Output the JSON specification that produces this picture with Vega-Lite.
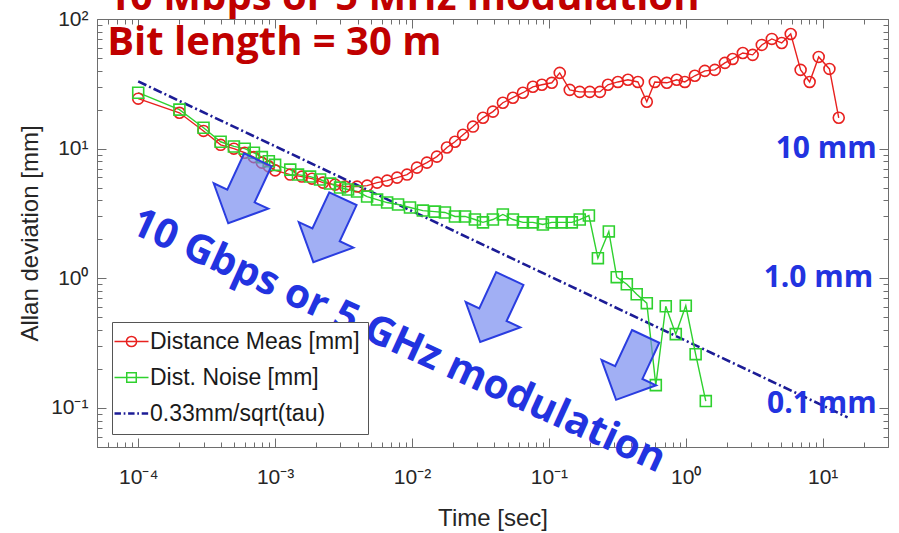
{
  "$schema": "https://vega.github.io/schema/vega-lite/v6.json",
  "width": 791,
  "height": 428,
  "autosize": "none",
  "padding": {"left": 97, "top": 19, "right": 11, "bottom": 86},
  "background": "white",
  "config": {"view": {"stroke": null}, "font": "Liberation Sans"},
  "datasets": {
    "fit": [
      {"t": 0.0001, "v": 33},
      {"t": 15.2, "v": 0.0847}
    ],
    "series": [
      {"s": "Distance Meas [mm]", "t": 0.0001, "v": 24.3},
      {"s": "Distance Meas [mm]", "t": 0.0002, "v": 18.9},
      {"s": "Distance Meas [mm]", "t": 0.0003, "v": 13.7},
      {"s": "Distance Meas [mm]", "t": 0.0004, "v": 10.7},
      {"s": "Distance Meas [mm]", "t": 0.0005, "v": 10.0},
      {"s": "Distance Meas [mm]", "t": 0.0006, "v": 9.3},
      {"s": "Distance Meas [mm]", "t": 0.0007, "v": 8.6},
      {"s": "Distance Meas [mm]", "t": 0.0008, "v": 7.8},
      {"s": "Distance Meas [mm]", "t": 0.0009, "v": 7.3},
      {"s": "Distance Meas [mm]", "t": 0.001, "v": 6.8},
      {"s": "Distance Meas [mm]", "t": 0.00129, "v": 6.31},
      {"s": "Distance Meas [mm]", "t": 0.00157, "v": 6.09},
      {"s": "Distance Meas [mm]", "t": 0.00186, "v": 5.87},
      {"s": "Distance Meas [mm]", "t": 0.00224, "v": 5.47},
      {"s": "Distance Meas [mm]", "t": 0.00274, "v": 5.28},
      {"s": "Distance Meas [mm]", "t": 0.00324, "v": 5.1},
      {"s": "Distance Meas [mm]", "t": 0.00397, "v": 5.1},
      {"s": "Distance Meas [mm]", "t": 0.0047, "v": 5.19},
      {"s": "Distance Meas [mm]", "t": 0.00556, "v": 5.47},
      {"s": "Distance Meas [mm]", "t": 0.00658, "v": 5.67},
      {"s": "Distance Meas [mm]", "t": 0.00778, "v": 5.98},
      {"s": "Distance Meas [mm]", "t": 0.0092, "v": 6.31},
      {"s": "Distance Meas [mm]", "t": 0.01087, "v": 7.14},
      {"s": "Distance Meas [mm]", "t": 0.01285, "v": 7.8},
      {"s": "Distance Meas [mm]", "t": 0.0152, "v": 8.68},
      {"s": "Distance Meas [mm]", "t": 0.018, "v": 10.2},
      {"s": "Distance Meas [mm]", "t": 0.0206, "v": 11.3},
      {"s": "Distance Meas [mm]", "t": 0.0236, "v": 12.8},
      {"s": "Distance Meas [mm]", "t": 0.0279, "v": 14.8},
      {"s": "Distance Meas [mm]", "t": 0.033, "v": 17.3},
      {"s": "Distance Meas [mm]", "t": 0.039, "v": 19.3},
      {"s": "Distance Meas [mm]", "t": 0.0461, "v": 22.6},
      {"s": "Distance Meas [mm]", "t": 0.0546, "v": 24.7},
      {"s": "Distance Meas [mm]", "t": 0.0646, "v": 27.0},
      {"s": "Distance Meas [mm]", "t": 0.0764, "v": 30.0},
      {"s": "Distance Meas [mm]", "t": 0.0889, "v": 31.1},
      {"s": "Distance Meas [mm]", "t": 0.105, "v": 32.2},
      {"s": "Distance Meas [mm]", "t": 0.12, "v": 38.4},
      {"s": "Distance Meas [mm]", "t": 0.142, "v": 28.4},
      {"s": "Distance Meas [mm]", "t": 0.168, "v": 27.4},
      {"s": "Distance Meas [mm]", "t": 0.199, "v": 27.4},
      {"s": "Distance Meas [mm]", "t": 0.236, "v": 27.4},
      {"s": "Distance Meas [mm]", "t": 0.27, "v": 31.1},
      {"s": "Distance Meas [mm]", "t": 0.319, "v": 32.7},
      {"s": "Distance Meas [mm]", "t": 0.378, "v": 34.0},
      {"s": "Distance Meas [mm]", "t": 0.447, "v": 32.7},
      {"s": "Distance Meas [mm]", "t": 0.519, "v": 23.0},
      {"s": "Distance Meas [mm]", "t": 0.594, "v": 32.7},
      {"s": "Distance Meas [mm]", "t": 0.727, "v": 32.2},
      {"s": "Distance Meas [mm]", "t": 0.859, "v": 34.0},
      {"s": "Distance Meas [mm]", "t": 0.984, "v": 32.7},
      {"s": "Distance Meas [mm]", "t": 1.164, "v": 36.5},
      {"s": "Distance Meas [mm]", "t": 1.377, "v": 39.8},
      {"s": "Distance Meas [mm]", "t": 1.63, "v": 40.5},
      {"s": "Distance Meas [mm]", "t": 1.93, "v": 45.9},
      {"s": "Distance Meas [mm]", "t": 2.2, "v": 49.2},
      {"s": "Distance Meas [mm]", "t": 2.61, "v": 54.7},
      {"s": "Distance Meas [mm]", "t": 3.08, "v": 52.9},
      {"s": "Distance Meas [mm]", "t": 3.59, "v": 63.1},
      {"s": "Distance Meas [mm]", "t": 4.25, "v": 70.2},
      {"s": "Distance Meas [mm]", "t": 5.02, "v": 65.3},
      {"s": "Distance Meas [mm]", "t": 5.84, "v": 76.7},
      {"s": "Distance Meas [mm]", "t": 6.9, "v": 40.5},
      {"s": "Distance Meas [mm]", "t": 8.03, "v": 32.7},
      {"s": "Distance Meas [mm]", "t": 9.35, "v": 51.0},
      {"s": "Distance Meas [mm]", "t": 11.2, "v": 41.2},
      {"s": "Distance Meas [mm]", "t": 13.1, "v": 17.3},
      {"s": "Dist. Noise [mm]", "t": 0.0001, "v": 27.0},
      {"s": "Dist. Noise [mm]", "t": 0.0002, "v": 20.0},
      {"s": "Dist. Noise [mm]", "t": 0.0003, "v": 14.5},
      {"s": "Dist. Noise [mm]", "t": 0.0004, "v": 11.3},
      {"s": "Dist. Noise [mm]", "t": 0.0005, "v": 10.4},
      {"s": "Dist. Noise [mm]", "t": 0.0006, "v": 10.0},
      {"s": "Dist. Noise [mm]", "t": 0.0007, "v": 9.3},
      {"s": "Dist. Noise [mm]", "t": 0.0008, "v": 8.6},
      {"s": "Dist. Noise [mm]", "t": 0.0009, "v": 8.0},
      {"s": "Dist. Noise [mm]", "t": 0.001, "v": 7.5},
      {"s": "Dist. Noise [mm]", "t": 0.00129, "v": 6.89},
      {"s": "Dist. Noise [mm]", "t": 0.00147, "v": 6.31},
      {"s": "Dist. Noise [mm]", "t": 0.0018, "v": 6.09},
      {"s": "Dist. Noise [mm]", "t": 0.00213, "v": 5.78},
      {"s": "Dist. Noise [mm]", "t": 0.00252, "v": 5.38},
      {"s": "Dist. Noise [mm]", "t": 0.00298, "v": 5.01},
      {"s": "Dist. Noise [mm]", "t": 0.00341, "v": 4.84},
      {"s": "Dist. Noise [mm]", "t": 0.00397, "v": 4.67},
      {"s": "Dist. Noise [mm]", "t": 0.0047, "v": 4.27},
      {"s": "Dist. Noise [mm]", "t": 0.00556, "v": 4.05},
      {"s": "Dist. Noise [mm]", "t": 0.00658, "v": 3.84},
      {"s": "Dist. Noise [mm]", "t": 0.00791, "v": 3.71},
      {"s": "Dist. Noise [mm]", "t": 0.00967, "v": 3.52},
      {"s": "Dist. Noise [mm]", "t": 0.012, "v": 3.33},
      {"s": "Dist. Noise [mm]", "t": 0.0147, "v": 3.27},
      {"s": "Dist. Noise [mm]", "t": 0.0174, "v": 3.22},
      {"s": "Dist. Noise [mm]", "t": 0.0206, "v": 3.0},
      {"s": "Dist. Noise [mm]", "t": 0.0244, "v": 3.0},
      {"s": "Dist. Noise [mm]", "t": 0.0288, "v": 2.84},
      {"s": "Dist. Noise [mm]", "t": 0.033, "v": 2.7},
      {"s": "Dist. Noise [mm]", "t": 0.039, "v": 2.84},
      {"s": "Dist. Noise [mm]", "t": 0.0461, "v": 3.11},
      {"s": "Dist. Noise [mm]", "t": 0.0546, "v": 2.84},
      {"s": "Dist. Noise [mm]", "t": 0.0646, "v": 2.7},
      {"s": "Dist. Noise [mm]", "t": 0.0764, "v": 2.7},
      {"s": "Dist. Noise [mm]", "t": 0.0904, "v": 2.6},
      {"s": "Dist. Noise [mm]", "t": 0.105, "v": 2.7},
      {"s": "Dist. Noise [mm]", "t": 0.124, "v": 2.7},
      {"s": "Dist. Noise [mm]", "t": 0.147, "v": 2.7},
      {"s": "Dist. Noise [mm]", "t": 0.168, "v": 2.84},
      {"s": "Dist. Noise [mm]", "t": 0.196, "v": 3.05},
      {"s": "Dist. Noise [mm]", "t": 0.228, "v": 1.43},
      {"s": "Dist. Noise [mm]", "t": 0.274, "v": 2.3},
      {"s": "Dist. Noise [mm]", "t": 0.313, "v": 1.02},
      {"s": "Dist. Noise [mm]", "t": 0.371, "v": 0.9},
      {"s": "Dist. Noise [mm]", "t": 0.438, "v": 0.753},
      {"s": "Dist. Noise [mm]", "t": 0.519, "v": 0.643},
      {"s": "Dist. Noise [mm]", "t": 0.604, "v": 0.15},
      {"s": "Dist. Noise [mm]", "t": 0.714, "v": 0.609},
      {"s": "Dist. Noise [mm]", "t": 0.845, "v": 0.371},
      {"s": "Dist. Noise [mm]", "t": 1.0, "v": 0.615},
      {"s": "Dist. Noise [mm]", "t": 1.18, "v": 0.26},
      {"s": "Dist. Noise [mm]", "t": 1.4, "v": 0.113}
    ],
    "arrows": [
      {"t": 0.000583, "v": 4.67},
      {"t": 0.00244, "v": 2.34},
      {"t": 0.0404, "v": 0.567},
      {"t": 0.397, "v": 0.203}
    ],
    "mmLabels": [
      {"t": 24.8, "v": 10, "label": "10 mm"},
      {"t": 23.4, "v": 1.0, "label": "1.0 mm"},
      {"t": 24.8, "v": 0.108, "label": "0.1 mm"}
    ],
    "redTitles": [
      {"t": 0.0000594, "v": 117, "label": "10 Mbps or 5 MHz modulation"},
      {"t": 0.0000594, "v": 52.8, "label": "Bit length = 30 m"}
    ],
    "diag": [
      {"t": 0.0073, "v": 0.268, "label": "10 Gbps or 5 GHz modulation"}
    ]
  },
  "resolve": {"axis": {"x": "independent", "y": "independent"}},
  "layer": [
    {
      "data": {"name": "fit"},
      "mark": {"type": "line", "color": "#1c1c96", "strokeWidth": 2.6, "strokeDash": [9, 3, 2, 3]},
      "encoding": {
        "x": {
          "field": "t", "type": "quantitative",
          "scale": {"type": "log", "domain": [0.00005, 30], "nice": false},
          "axis": {
            "orient": "bottom",
            "values": [0.00005, 0.00006, 0.00007, 0.00008, 0.00009, 0.0001, 0.0002, 0.0003, 0.0004, 0.0005, 0.0006, 0.0007, 0.0008, 0.0009, 0.001, 0.002, 0.003, 0.004, 0.005, 0.006, 0.007, 0.008, 0.009, 0.01, 0.02, 0.03, 0.04, 0.05, 0.06, 0.07, 0.08, 0.09, 0.1, 0.2, 0.3, 0.4, 0.5, 0.6, 0.7, 0.8, 0.9, 1, 2, 3, 4, 5, 6, 7, 8, 9, 10, 20, 30],
            "labelExpr": "abs(log(datum.value)/LN10 - round(log(datum.value)/LN10)) > 0.01 ? '' : round(log(datum.value)/LN10) == -4 ? '10⁻⁴' : round(log(datum.value)/LN10) == -3 ? '10⁻³' : round(log(datum.value)/LN10) == -2 ? '10⁻²' : round(log(datum.value)/LN10) == -1 ? '10⁻¹' : round(log(datum.value)/LN10) == 0 ? '10⁰' : round(log(datum.value)/LN10) == 1 ? '10¹' : '10²'",
            "tickSize": {"condition": {"test": "abs(log(datum.value)/LN10 - round(log(datum.value)/LN10)) < 0.01", "value": -9}, "value": -5},
            "labelPadding": 28,
            "labelFont": "Liberation Sans", "labelFontSize": 21, "labelColor": "#262626",
            "labelOverlap": false, "labelFlush": false,
            "tickColor": "#6e6e6e", "domainColor": "#6e6e6e", "grid": false,
            "title": "Time [sec]", "titleFont": "Liberation Sans", "titleFontSize": 24,
            "titleFontWeight": "normal", "titleColor": "#262626", "titlePadding": 15
          }
        },
        "y": {
          "field": "v", "type": "quantitative",
          "scale": {"type": "log", "domain": [0.05, 100], "nice": false},
          "axis": {
            "orient": "left",
            "values": [0.05, 0.06, 0.07, 0.08, 0.09, 0.1, 0.2, 0.3, 0.4, 0.5, 0.6, 0.7, 0.8, 0.9, 1, 2, 3, 4, 5, 6, 7, 8, 9, 10, 20, 30, 40, 50, 60, 70, 80, 90, 100],
            "labelExpr": "abs(log(datum.value)/LN10 - round(log(datum.value)/LN10)) > 0.01 ? '' : round(log(datum.value)/LN10) == -1 ? '10⁻¹' : round(log(datum.value)/LN10) == 0 ? '10⁰' : round(log(datum.value)/LN10) == 1 ? '10¹' : '10²'",
            "tickSize": {"condition": {"test": "abs(log(datum.value)/LN10 - round(log(datum.value)/LN10)) < 0.01", "value": -9}, "value": -5},
            "labelPadding": 18,
            "labelFont": "Liberation Sans", "labelFontSize": 21, "labelColor": "#262626",
            "labelOverlap": false, "labelFlush": false,
            "tickColor": "#6e6e6e", "domainColor": "#6e6e6e", "grid": false,
            "title": "Allan deviation [mm]", "titleFont": "Liberation Sans", "titleFontSize": 24,
            "titleFontWeight": "normal", "titleColor": "#262626", "titlePadding": 8
          }
        }
      }
    },
    {
      "data": {"name": "series"},
      "transform": [{"filter": "datum.s === 'Distance Meas [mm]'"}],
      "mark": {"type": "line", "strokeWidth": 1.4, "color": "#e8211f"},
      "encoding": {
        "x": {
          "field": "t", "type": "quantitative",
          "axis": {
            "orient": "top",
            "values": [0.00005, 0.00006, 0.00007, 0.00008, 0.00009, 0.0001, 0.0002, 0.0003, 0.0004, 0.0005, 0.0006, 0.0007, 0.0008, 0.0009, 0.001, 0.002, 0.003, 0.004, 0.005, 0.006, 0.007, 0.008, 0.009, 0.01, 0.02, 0.03, 0.04, 0.05, 0.06, 0.07, 0.08, 0.09, 0.1, 0.2, 0.3, 0.4, 0.5, 0.6, 0.7, 0.8, 0.9, 1, 2, 3, 4, 5, 6, 7, 8, 9, 10, 20, 30],
            "labels": false, "title": null,
            "tickSize": {"condition": {"test": "abs(log(datum.value)/LN10 - round(log(datum.value)/LN10)) < 0.01", "value": -9}, "value": -5},
            "tickColor": "#6e6e6e", "domainColor": "#6e6e6e", "grid": false
          }
        },
        "y": {
          "field": "v", "type": "quantitative",
          "axis": {
            "orient": "right",
            "values": [0.05, 0.06, 0.07, 0.08, 0.09, 0.1, 0.2, 0.3, 0.4, 0.5, 0.6, 0.7, 0.8, 0.9, 1, 2, 3, 4, 5, 6, 7, 8, 9, 10, 20, 30, 40, 50, 60, 70, 80, 90, 100],
            "labels": false, "title": null,
            "tickSize": {"condition": {"test": "abs(log(datum.value)/LN10 - round(log(datum.value)/LN10)) < 0.01", "value": -9}, "value": -5},
            "tickColor": "#6e6e6e", "domainColor": "#6e6e6e", "grid": false
          }
        }
      }
    },
    {
      "data": {"name": "series"},
      "transform": [{"filter": "datum.s === 'Dist. Noise [mm]'"}],
      "mark": {"type": "line", "strokeWidth": 1.4, "color": "#2fd12f"},
      "encoding": {
        "x": {"field": "t", "type": "quantitative", "axis": null},
        "y": {"field": "v", "type": "quantitative", "axis": null}
      }
    },
    {
      "data": {"name": "series"},
      "mark": {"type": "point", "filled": false, "strokeWidth": 1.6, "size": 120, "opacity": 1},
      "encoding": {
        "x": {"field": "t", "type": "quantitative", "axis": null},
        "y": {"field": "v", "type": "quantitative", "axis": null},
        "shape": {
          "field": "s", "type": "nominal",
          "scale": {"domain": ["Distance Meas [mm]", "Dist. Noise [mm]"], "range": ["circle", "square"]},
          "legend": null
        },
        "color": {
          "field": "s", "type": "nominal",
          "scale": {"domain": ["Distance Meas [mm]", "Dist. Noise [mm]", "0.33mm/sqrt(tau)"], "range": ["#e8211f", "#2fd12f", "#1c1c96"]},
          "legend": {
            "title": null,
            "orient": "none", "legendX": 15, "legendY": 303,
            "symbolSize": 1156,
            "labelFont": "Liberation Sans", "labelFontSize": 23, "labelColor": "#1a1a1a",
            "labelLimit": 0, "labelOffset": 7,
            "rowPadding": 12, "padding": 8,
            "strokeColor": "#555555", "fillColor": "white",
            "symbolStrokeWidth": 1.5,
            "encoding": {
              "symbols": {
                "shape": {"value": {"expr": "datum.value === 'Distance Meas [mm]' ? 'M-1,0H1M0.3,0A0.3,0.3,0,1,1,-0.3,0A0.3,0.3,0,1,1,0.3,0' : datum.value === 'Dist. Noise [mm]' ? 'M-1,0H1M-0.28,-0.28H0.28V0.28H-0.28Z' : 'M-1,0H-0.62M-0.46,0H-0.36M-0.2,0H0.18M0.34,0H0.44M0.6,0H0.98'"}},
                "fill": {"value": "transparent"},
                "strokeWidth": {"value": {"expr": "datum.value === '0.33mm/sqrt(tau)' ? 2.6 : 1.5"}}
              }
            }
          }
        }
      }
    },
    {
      "data": {"name": "arrows"},
      "mark": {
        "type": "point",
        "shape": "M-0.43,-1L0.43,-1L0.43,0.14L0.86,0.14L0,1L-0.86,0.14L-0.43,0.14Z",
        "size": 4900, "angle": 25, "filled": true,
        "fill": "#6f84ee", "fillOpacity": 0.65,
        "stroke": "#2a3de0", "strokeWidth": 2, "strokeOpacity": 1, "opacity": 1
      },
      "encoding": {
        "x": {"field": "t", "type": "quantitative", "axis": null},
        "y": {"field": "v", "type": "quantitative", "axis": null}
      }
    },
    {
      "data": {"name": "mmLabels"},
      "mark": {"type": "text", "font": "Open Sans", "fontWeight": "bold", "fontSize": 30, "color": "#2233e0", "align": "right", "baseline": "middle"},
      "encoding": {
        "x": {"field": "t", "type": "quantitative", "axis": null},
        "y": {"field": "v", "type": "quantitative", "axis": null},
        "text": {"field": "label"}
      }
    },
    {
      "data": {"name": "redTitles"},
      "mark": {"type": "text", "font": "Open Sans", "fontWeight": "bold", "fontSize": 40, "color": "#c00000", "align": "left", "baseline": "alphabetic"},
      "encoding": {
        "x": {"field": "t", "type": "quantitative", "axis": null},
        "y": {"field": "v", "type": "quantitative", "axis": null},
        "text": {"field": "label"}
      }
    },
    {
      "data": {"name": "diag"},
      "mark": {"type": "text", "font": "Open Sans", "fontWeight": "bold", "fontSize": 40.5, "color": "#2233e0", "align": "center", "baseline": "alphabetic", "angle": 24.5},
      "encoding": {
        "x": {"field": "t", "type": "quantitative", "axis": null},
        "y": {"field": "v", "type": "quantitative", "axis": null},
        "text": {"field": "label"}
      }
    }
  ]
}
